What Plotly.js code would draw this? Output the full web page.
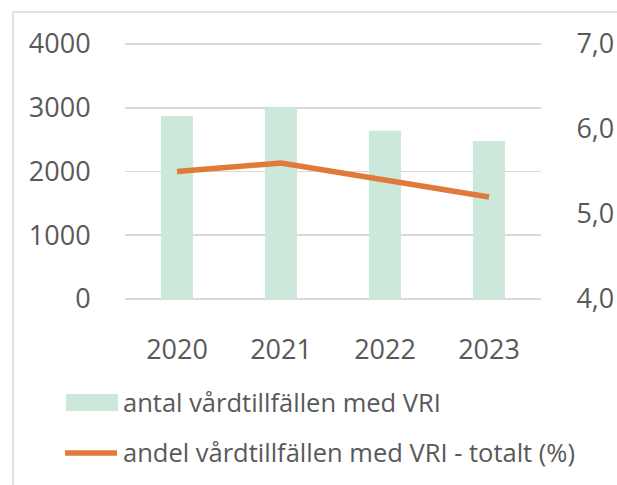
<!DOCTYPE html>
<html>
<head>
<meta charset="utf-8">
<script src="https://cdn.plot.ly/plotly-3.0.1.min.js"></script>
<style>
html,body{margin:0;padding:0;background:#fff;}
#chart{width:617px;height:485px;}
</style>
</head>
<body>
<div id="chart"></div>
<script>
var years = ['2020', '2021', '2022', '2023'];
var antal = [2870, 3000, 2640, 2480];
var andel = [5.5, 5.6, 5.4, 5.2];
var barName = 'antal vårdtillfällen med VRI';
var lineName = 'andel vårdtillfällen med VRI - totalt (%)';
var leftTicks = [0, 1000, 2000, 3000, 4000];
var rightTicks = [4, 5, 6, 7];
var rightTickText = ['4,0', '5,0', '6,0', '7,0'];

var barColor = '#CCE8DA';
var lineColor = '#E07A3A';
var textColor = '#595959';
var gridColor = '#D9D9D9';
var FONT = '"Open Sans", "Noto Sans", sans-serif';

// plot area in pixels
var L = 125, R = 541, T = 43, B = 300;
function px(x){ return (x - L) / (R - L); }
function py(y){ return (B - y) / (B - T); }

var traces = [
  {type:'bar', x: years, y: antal, name: barName, marker:{color: barColor}, showlegend:false, yaxis:'y'},
  {type:'scatter', mode:'lines', x: years, y: andel, name: lineName, line:{color: lineColor, width: 5.5}, showlegend:false, yaxis:'y2'}
];

var layout = {
  width: 617, height: 485,
  margin: {l: L, r: 617 - R, t: T, b: 485 - B, pad: 0},
  paper_bgcolor: '#fff', plot_bgcolor: '#fff',
  font: {family: FONT, color: textColor},
  bargap: 0.69,
  xaxis: {
    type:'category', showgrid:false, zeroline:false, showline:false,
    ticks:'outside', ticklen: 26, tickcolor:'rgba(0,0,0,0)',
    tickfont:{size: 27, color: textColor, family: FONT}
  },
  yaxis: {
    range:[-16, 4016], tickvals: leftTicks, ticktext: leftTicks.map(String),
    showgrid:true, gridcolor: gridColor, gridwidth: 1.5,
    zeroline:false, showline:false,
    ticks:'outside', ticklen: 28, tickcolor:'rgba(0,0,0,0)',
    tickfont:{size: 27, color: textColor, family: FONT}
  },
  yaxis2: {
    overlaying:'y', side:'right', range:[3.988, 7.012],
    tickvals: rightTicks, ticktext: rightTickText,
    showgrid:false, zeroline:false, showline:false,
    ticks:'outside', ticklen: 29, tickcolor:'rgba(0,0,0,0)',
    tickfont:{size: 27, color: textColor, family: FONT}
  },
  shapes: [
    // outer frame (left and top)
    {type:'line', xref:'paper', yref:'paper', x0:px(13), x1:px(13), y0:py(12), y1:py(490), line:{color: gridColor, width:1.5}},
    {type:'line', xref:'paper', yref:'paper', x0:px(13), x1:px(620), y0:py(12), y1:py(12), line:{color: gridColor, width:1.5}},
    // legend symbols
    {type:'rect', xref:'paper', yref:'paper', x0:px(66), x1:px(118), y0:py(411), y1:py(394), fillcolor: barColor, line:{width:0}},
    {type:'line', xref:'paper', yref:'paper', x0:px(65), x1:px(117), y0:py(453), y1:py(453), line:{color: lineColor, width:5.5}}
  ],
  annotations: [
    {xref:'paper', yref:'paper', x:px(121), y:py(402), xanchor:'left', yanchor:'middle', showarrow:false, text: barName, font:{size: 25.5, color: textColor, family: FONT}},
    {xref:'paper', yref:'paper', x:px(121), y:py(452), xanchor:'left', yanchor:'middle', showarrow:false, text: lineName, font:{size: 25.5, color: textColor, family: FONT}}
  ]
};

Plotly.newPlot('chart', traces, layout, {staticPlot:true, displayModeBar:false});
</script>
</body>
</html>
